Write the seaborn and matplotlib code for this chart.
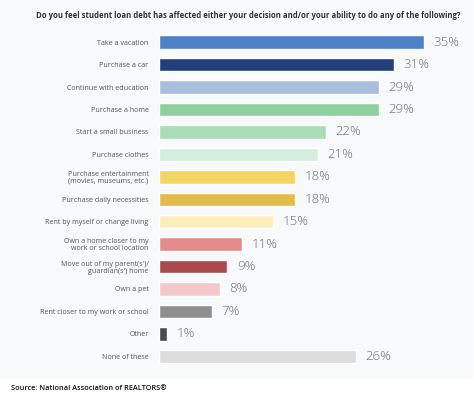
import numpy as np
import pandas as pd
import seaborn as sns
import matplotlib.pyplot as plt
from matplotlib.patches import Rectangle

sns.set_style("white")
plt.rcParams['font.family'] = ['Open Sans', 'DejaVu Sans']

# survey answers, top to bottom
answers = [
    "Take a vacation",
    "Purchase a car",
    "Continue with education",
    "Purchase a home",
    "Start a small business",
    "Purchase clothes",
    "Purchase entertainment\n(movies, museums, etc.)",
    "Purchase daily necessities",
    "Rent by myself or change living",
    "Own a home closer to my\nwork or school location",
    "Move out of my parent(s')/\nguardian(s') home",
    "Own a pet",
    "Rent closer to my work or school",
    "Other",
    "None of these",
]
pct = [35, 31, 29, 29, 22, 21, 18, 18, 15, 11, 9, 8, 7, 1, 26]
bar_colors = [
    "#4f81c7", "#223f7c", "#a9bedd", "#8dcf9d", "#a9dcb7", "#d3eedc",
    "#f3d561", "#e2bb48", "#fbeebb", "#e48b8b", "#a84b4f", "#f3c9cb",
    "#8f8f8f", "#4a4a4a", "#dcdcdc",
]

df = pd.DataFrame({"answer": answers, "pct": pct})

fig = plt.figure(figsize=(4.74, 4.0), dpi=100)
# light panel behind the chart
fig.patches.append(Rectangle((0, 1 - 377 / 400), 472 / 474, 377 / 400,
                             transform=fig.transFigure, color="#f8f9fb", zorder=-5))

ax = fig.add_axes([159 / 474, 1 - 367.5 / 400, 313 / 474, 336.5 / 400])
ax.set_facecolor("none")
ax.set_zorder(2)
sns.barplot(data=df, y="answer", x="pct", hue="answer", palette=bar_colors,
            legend=False, orient="h", width=0.6, saturation=1, ax=ax)

for c in ax.containers:
    ax.bar_label(c, fmt="%d%%", padding=7, fontsize=9.5, color="#6e6e6e",
                 fontweight="light")

ax.set_xlim(0, 313 / 7.57)
ax.set_ylim(14.5, -0.5)
ax.set_xlabel("")
ax.set_ylabel("")
ax.set_xticks([])
ax.tick_params(axis="y", length=0, pad=7.5, labelsize=5.1, labelcolor="#555555")
for lbl in ax.get_yticklabels():
    lbl.set_linespacing(1.0)
sns.despine(ax=ax, left=True, bottom=True)

fig.text(248 / 474, 1 - 16 / 400,
         "Do you feel student loan debt has affected either your decision and/or your ability to do any of the following?",
         ha="center", va="center", fontsize=5.6, fontweight="bold", color="#333333")
fig.text(11 / 474, 1 - 389 / 400, "Source: National Association of REALTORS\u00ae",
         ha="left", va="center", fontsize=5.3, fontweight="semibold", color="#111111")

fig.savefig("out.png", dpi=100)
